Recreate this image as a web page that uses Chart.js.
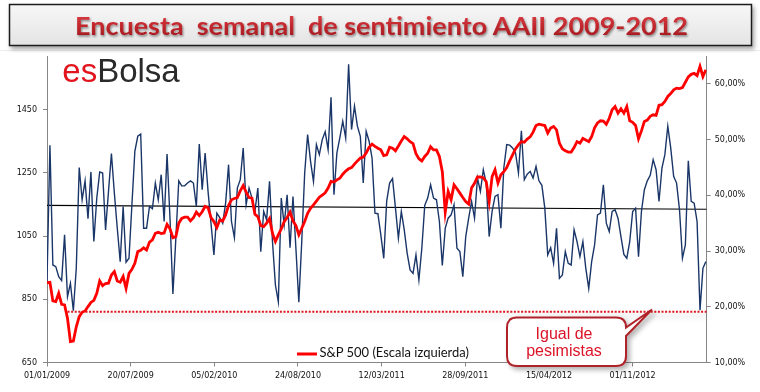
<!DOCTYPE html>
<html><head><meta charset="utf-8">
<script src="https://cdn.jsdelivr.net/npm/chart.js@4.4.1/dist/chart.umd.min.js"></script>
<style>
html,body{margin:0;padding:0;background:#fff;}
#wrap{position:relative;width:760px;height:392px;overflow:hidden;background:#fff;}
#c{position:absolute;left:0;top:0;width:760px;height:392px;}
#ov{position:absolute;left:0;top:0;pointer-events:none;}
</style></head><body>
<div id="wrap">
<canvas id="c" width="760" height="392"></canvas>
<svg id="ov" width="760" height="392" xmlns="http://www.w3.org/2000/svg">
  <defs>
    <linearGradient id="tg" x1="0" y1="0" x2="0" y2="1">
      <stop offset="0" stop-color="#f7f7f7"/><stop offset="1" stop-color="#e4e4e4"/>
    </linearGradient>
    <linearGradient id="rg" x1="0" y1="0" x2="0" y2="1">
      <stop offset="0" stop-color="#e0454a"/><stop offset="0.55" stop-color="#c0262c"/><stop offset="1" stop-color="#9c1a1f"/>
    </linearGradient>
    <filter id="boxsh" x="-5%" y="-30%" width="115%" height="180%">
      <feDropShadow dx="2" dy="3" stdDeviation="2" flood-color="#000" flood-opacity="0.35"/>
    </filter>
    <filter id="txtsh" x="-5%" y="-30%" width="110%" height="170%">
      <feDropShadow dx="1" dy="1.5" stdDeviation="1" flood-color="#000" flood-opacity="0.45"/>
    </filter>
    <filter id="callsh" x="-20%" y="-30%" width="150%" height="170%">
      <feDropShadow dx="3" dy="3" stdDeviation="2.5" flood-color="#000" flood-opacity="0.3"/>
    </filter>
  </defs>
  <line x1="0" y1="50.5" x2="760" y2="50.5" stroke="#ededed" stroke-width="1"/>
  <rect x="9.5" y="4.5" width="742" height="41" fill="url(#tg)" stroke="#1a1a1a" stroke-width="1.5" filter="url(#boxsh)"/>
  <text id="title" x="381.5" y="35" text-anchor="middle" font-family="Lato" font-weight="bold" font-size="25.5" fill="url(#rg)" filter="url(#txtsh)" textLength="613" lengthAdjust="spacingAndGlyphs" style="white-space:pre">Encuesta  semanal  de sentimiento AAII 2009-2012</text>
  <text x="62.3" y="81.7" font-family="Liberation Sans" font-size="33"><tspan fill="#e2141e">es</tspan><tspan fill="#2a2a2a">Bolsa</tspan></text>
  <line x1="297" y1="354" x2="317" y2="354" stroke="#ff0000" stroke-width="3"/>
  <text x="319.5" y="357.3" font-family="Lato" font-size="13" fill="#111" textLength="149.5" lengthAdjust="spacingAndGlyphs">S&amp;P 500 (Escala izquierda)</text>
  <path d="M517,317.5 L616,317.5 Q626,317.5 626,327.5 L652,309.5 L626,336 L626,356 Q626,366 616,366 L517,366 Q507,366 507,356 L507,327.5 Q507,317.5 517,317.5 Z" fill="#fff" stroke="#b0242b" stroke-width="2" filter="url(#callsh)"/>
  <text x="564" y="338.5" text-anchor="middle" font-family="Liberation Sans" font-size="16" fill="#dc1428">Igual de</text>
  <text x="564" y="355.5" text-anchor="middle" font-family="Liberation Sans" font-size="16" fill="#dc1428">pesimistas</text>
</svg>
</div>
<script>
// Weekly S&P 500 close (left scale), from 01/01/2009
const spx = [
 903, 904, 845, 843, 869, 834, 832, 790, 716, 718,
 763, 795, 809, 813, 827, 840, 847, 869, 908, 893,
 900, 901, 927, 938, 908, 904, 922, 885, 932, 945,
 964, 1001, 1005, 1013, 1006, 1031, 1038, 1059, 1062, 1058,
 1060, 1087, 1073, 1045, 1048, 1091, 1106, 1110, 1110, 1098,
 1108, 1126, 1115, 1127, 1144, 1140, 1109, 1096, 1077, 1101,
 1098, 1117, 1147, 1165, 1169, 1172, 1193, 1210, 1189, 1172,
 1170, 1119, 1112, 1083, 1080, 1091, 1106, 1059, 1033, 1054,
 1073, 1096, 1109, 1126, 1098, 1083, 1054, 1075, 1096, 1122,
 1138, 1149, 1161, 1173, 1180, 1187, 1202, 1223, 1221, 1228,
 1233, 1246, 1256, 1263, 1267, 1278, 1288, 1297, 1300, 1313,
 1331, 1341, 1334, 1328, 1323, 1305, 1307, 1331, 1328, 1320,
 1335, 1351, 1365, 1358, 1349, 1343, 1311, 1295, 1288, 1302,
 1312, 1333, 1323, 1323, 1302, 1254, 1126, 1191, 1165, 1212,
 1200, 1186, 1172, 1159, 1151, 1203, 1217, 1237, 1237, 1235,
 1222, 1159, 1238, 1260, 1218, 1244, 1254, 1267, 1288, 1307,
 1326, 1339, 1349, 1347, 1357, 1364, 1379, 1400, 1404, 1402,
 1400, 1376, 1392, 1397, 1386, 1344, 1326, 1320, 1316, 1316,
 1330, 1349, 1344, 1359, 1354, 1349, 1365, 1393, 1408, 1415,
 1414, 1404, 1423, 1450, 1460, 1439, 1453, 1439, 1460, 1415,
 1410, 1400, 1358, 1383, 1413, 1417, 1429, 1434, 1432, 1464,
 1466, 1476, 1492, 1501, 1513, 1518, 1517, 1520, 1537, 1554,
 1562, 1565, 1558, 1587, 1555, 1576
];
// Weekly AAII bullish sentiment, % (right scale)
const bullish = [
 24.5, 49.0, 27.5, 27.2, 25.4, 24.7, 32.9, 21.8, 24.2, 19.3,
 26.9, 45.0, 39.2, 42.6, 35.8, 44.2, 31.7, 39.5, 44.2, 44.0,
 33.8, 40.7, 47.5, 40.4, 34.1, 28.1, 38.0, 28.0, 28.7, 38.3,
 47.9, 50.6, 51.0, 34.1, 34.1, 38.0, 37.6, 42.2, 39.2, 43.7,
 35.3, 47.4, 35.9, 22.3, 32.3, 42.6, 41.7, 41.7, 42.2, 42.6,
 42.2, 38.0, 49.2, 41.0, 47.6, 40.7, 35.0, 29.3, 36.8, 36.0,
 35.0, 38.6, 45.5, 35.3, 32.4, 41.3, 42.8, 48.5, 38.3, 41.3,
 39.5, 37.1, 41.3, 29.9, 37.1, 35.6, 42.5, 31.7, 23.9, 20.9,
 39.5, 34.7, 40.1, 30.6, 39.8, 30.5, 20.8, 31.7, 44.0, 50.9,
 46.1, 42.5, 49.1, 47.3, 50.0, 51.4, 48.2, 57.6, 40.1, 47.6,
 50.3, 53.3, 50.3, 63.5, 51.8, 56.0, 52.4, 50.6, 42.2, 51.5,
 49.7, 46.7, 36.8, 36.7, 32.9, 28.7, 38.9, 42.2, 43.0, 37.7,
 32.3, 37.1, 33.8, 29.6, 26.6, 26.0, 29.3, 24.8, 30.5, 38.2,
 39.5, 41.9, 39.5, 39.2, 35.3, 27.4, 34.1, 35.9, 36.5, 38.3,
 30.5, 29.9, 25.4, 32.6, 35.9, 38.9, 35.9, 43.1, 40.7, 44.6,
 42.2, 32.6, 37.1, 39.8, 40.1, 34.1, 44.9, 49.1, 49.0, 48.5,
 47.6, 44.0, 51.6, 42.8, 43.8, 44.3, 43.1, 45.2, 42.6, 41.8,
 37.7, 29.3, 30.6, 27.8, 34.1, 25.1, 25.7, 29.9, 27.8, 27.5,
 33.8, 31.7, 29.0, 31.7, 26.9, 23.3, 28.1, 31.1, 36.5, 36.8,
 41.9, 35.0, 33.5, 37.1, 37.4, 35.9, 32.6, 29.4, 28.7, 31.7,
 37.1, 37.7, 29.0, 37.1, 41.0, 42.6, 43.6, 46.4, 44.6, 38.9,
 44.9, 47.3, 52.4, 48.5, 43.4, 42.2, 37.4, 28.7, 31.1, 46.2,
 38.9, 38.6, 35.3, 19.4, 26.9, 28.1
];
// Categories: weekly survey dates as day offsets from 01/01/2009
const weekDays = spx.map((_, i) => i * 7);
// Average bullish line (start, end) and "equally pessimistic" level
const avgLine = [38.2, 37.5];
const parityLevel = [19.1, 19.1];
const parityStartDay = 49;
const lastDay = 1577;
// Tick labels
const xTickDays = [0, 200, 400, 600, 800, 1000, 1200, 1400];
const xTickLabels = ['01/01/2009','20/07/2009','05/02/2010','24/08/2010','12/03/2011','28/09/2011','15/04/2012','01/11/2012'];
const leftTicks = [650, 850, 1050, 1250, 1450];
const rightTicks = [10, 20, 30, 40, 50, 60];
const rightTickLabels = ['10,00%','20,00%','30,00%','40,00%','50,00%','60,00%'];

const axisColor = '#868686';
const tickFont = {family: 'DejaVu Sans', size: 8};

const shadowPlugin = {
  id: 'shadowPlugin',
  beforeDatasetDraw(chart, args) {
    if (args.index === 3) {
      const ctx = chart.ctx;
      ctx.save();
      ctx.shadowColor = 'rgba(0,0,0,0.28)';
      ctx.shadowBlur = 6;
      ctx.shadowOffsetY = 4;
    }
  },
  afterDatasetDraw(chart, args) {
    if (args.index === 3) chart.ctx.restore();
  }
};

new Chart(document.getElementById('c'), {
  type: 'line',
  data: {
    datasets: [
      { label: 'S&P 500 (Escala izquierda)', yAxisID: 'y',
        data: spx.map((v, i) => ({x: weekDays[i], y: v})),
        borderColor: '#ff0000', borderWidth: 2.8, pointRadius: 0, tension: 0, fill: false },
      { label: 'Alcistas', yAxisID: 'y1',
        data: bullish.map((v, i) => ({x: weekDays[i], y: v})),
        borderColor: '#1a3668', borderWidth: 1.4, pointRadius: 0, tension: 0, fill: false },
      { label: 'Media', yAxisID: 'y1',
        data: [{x: 0, y: avgLine[0]}, {x: lastDay, y: avgLine[1]}],
        borderColor: '#000000', borderWidth: 1.2, pointRadius: 0, fill: false },
      { label: 'Igual de pesimistas', yAxisID: 'y1',
        data: [{x: parityStartDay, y: parityLevel[0]}, {x: lastDay, y: parityLevel[1]}],
        borderColor: '#e0141e', borderWidth: 2, borderDash: [2, 1.6], pointRadius: 0, fill: false }
    ]
  },
  options: {
    responsive: false, animation: false, devicePixelRatio: 1,
    layout: { padding: { top: 56, bottom: 9.5, left: 0, right: 0 } },
    plugins: { legend: { display: false }, tooltip: { enabled: false } },
    scales: {
      x: {
        type: 'linear', min: 0, max: lastDay,
        afterBuildTicks: s => { s.ticks = xTickDays.map(v => ({value: v})); },
        afterFit: s => { s.height = 20; },
        ticks: { autoSkip: false, maxRotation: 0, padding: 5, color: '#111', font: tickFont,
                 callback: (v, i) => xTickLabels[i] },
        grid: { drawOnChartArea: false, drawTicks: true, tickLength: 4, color: axisColor },
        border: { display: true, color: axisColor, width: 1 }
      },
      y: {
        position: 'left', min: 650, max: 1620,
        afterBuildTicks: s => { s.ticks = leftTicks.map(v => ({value: v})); },
        afterFit: s => { s.width = 47; },
        ticks: { autoSkip: false, padding: 6, color: '#111', font: tickFont,
                 callback: (v, i) => String(leftTicks[i]) },
        grid: { drawOnChartArea: false, drawTicks: true, tickLength: 4, color: axisColor },
        border: { display: true, color: axisColor, width: 1 }
      },
      y1: {
        position: 'right', min: 10, max: 65,
        afterBuildTicks: s => { s.ticks = rightTicks.map(v => ({value: v})); },
        afterFit: s => { s.width = 53.3; },
        ticks: { autoSkip: false, padding: 4, color: '#111', font: tickFont,
                 callback: (v, i) => rightTickLabels[i] },
        grid: { drawOnChartArea: false, drawTicks: true, tickLength: 4, color: axisColor },
        border: { display: true, color: axisColor, width: 1 }
      }
    }
  },
  plugins: [shadowPlugin]
});
</script>
</body></html>
